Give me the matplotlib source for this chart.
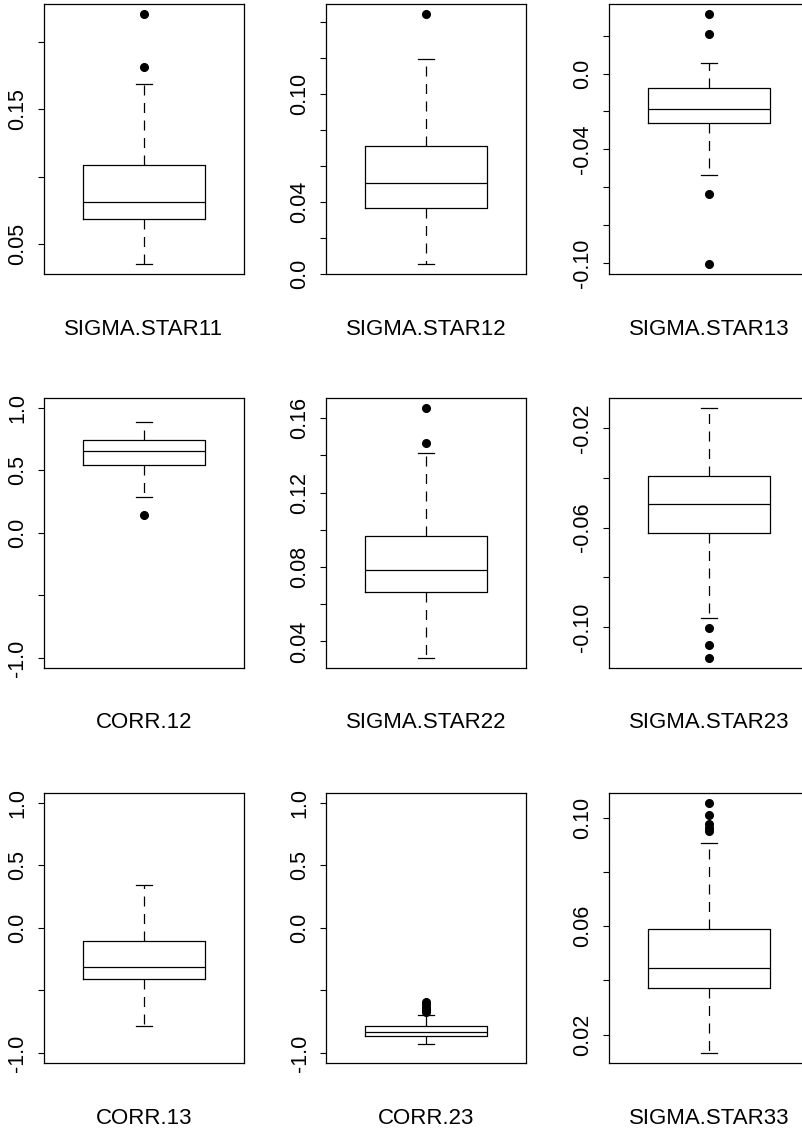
import matplotlib
matplotlib.use("Agg")
import matplotlib.pyplot as plt

plt.rcParams['font.family'] = ['Liberation Sans', 'DejaVu Sans']

# boxplot summaries
names = ['SIGMA.STAR11', 'SIGMA.STAR12', 'SIGMA.STAR13',
         'CORR.12', 'SIGMA.STAR22', 'SIGMA.STAR23',
         'CORR.13', 'CORR.23', 'SIGMA.STAR33']
q1 = [0.0683, 0.0368, -0.0260, 0.540, 0.0663, -0.0624, -0.411, -0.864, 0.0373]
med = [0.0814, 0.0506, -0.0186, 0.657, 0.0782, -0.0504, -0.309, -0.829, 0.0447]
q3 = [0.1088, 0.0711, -0.0076, 0.745, 0.0966, -0.0395, -0.104, -0.787, 0.0588]
whislo = [0.0352, 0.0056, -0.0535, 0.284, 0.0311, -0.0965, -0.781, -0.925, 0.0132]
whishi = [0.1687, 0.1198, 0.0056, 0.891, 0.1414, -0.0120, 0.344, -0.696, 0.0905]
fliers = [[0.1815, 0.2208],
          [0.1446],
          [-0.1005, -0.0634, 0.0211, 0.0314],
          [0.144],
          [0.1466, 0.1654],
          [-0.1124, -0.1071, -0.1004],
          [],
          [-0.675, -0.66, -0.645, -0.63, -0.61, -0.59],
          [0.0950, 0.0963, 0.0975, 0.1009, 0.1054]]

# y ticks and which of them carry a label
ticks = [[0.05, 0.10, 0.15, 0.20],
         [0.0, 0.02, 0.04, 0.06, 0.08, 0.10, 0.12, 0.14],
         [-0.10, -0.08, -0.06, -0.04, -0.02, 0.0, 0.02],
         [-1.0, -0.5, 0.0, 0.5, 1.0],
         [0.04, 0.06, 0.08, 0.10, 0.12, 0.14, 0.16],
         [-0.10, -0.08, -0.06, -0.04, -0.02],
         [-1.0, -0.5, 0.0, 0.5, 1.0],
         [-1.0, -0.5, 0.0, 0.5, 1.0],
         [0.02, 0.04, 0.06, 0.08, 0.10]]
tick_labels = [['0.05', '', '0.15', ''],
               ['0.0', '', '0.04', '', '', '0.10', '', ''],
               ['-0.10', '', '', '-0.04', '', '0.0', ''],
               ['-1.0', '', '0.0', '0.5', '1.0'],
               ['0.04', '', '0.08', '', '0.12', '', '0.16'],
               ['-0.10', '', '-0.06', '', '-0.02'],
               ['-1.0', '', '0.0', '0.5', '1.0'],
               ['-1.0', '', '0.0', '0.5', '1.0'],
               ['0.02', '', '0.06', '', '0.10']]
is_corr = [n.startswith('CORR') for n in names]

W, H = 803, 1130
fig = plt.figure(figsize=(W / 100, H / 100), dpi=100)

lefts = [44, 326.5, 609]
tops = [4, 398, 793]
aw, ah = 200, 270

for i, name in enumerate(names):
    r, c = divmod(i, 3)
    ax = fig.add_axes([lefts[c] / W, 1 - (tops[r] + ah) / H, aw / W, ah / H])
    stats = [dict(med=med[i], q1=q1[i], q3=q3[i], whislo=whislo[i],
                  whishi=whishi[i], fliers=fliers[i])]
    ax.bxp(stats, positions=[1], widths=0.61, capwidths=0.08,
           boxprops=dict(color='black', linewidth=0.9),
           medianprops=dict(color='black', linewidth=0.9),
           whiskerprops=dict(color='black', linewidth=0.9, linestyle=(0, (8, 6))),
           capprops=dict(color='black', linewidth=0.9),
           flierprops=dict(marker='o', markerfacecolor='black',
                           markeredgecolor='black', markersize=5.5))
    ax.set_xlim(0.5, 1.5)
    if is_corr[i]:
        ax.set_ylim(-1.08, 1.08)
    else:
        lo = min([whislo[i]] + fliers[i])
        hi = max([whishi[i]] + fliers[i])
        pad = 0.04 * (hi - lo)
        ax.set_ylim(lo - pad, hi + pad)
    ax.set_xticks([])
    ax.set_yticks(ticks[i], tick_labels[i])
    ax.tick_params(axis='y', length=4, width=0.8, pad=7.5,
                   labelsize=15.5, labelrotation=90)
    for lab in ax.get_yticklabels():
        lab.set_verticalalignment('center')
    for sp in ax.spines.values():
        sp.set_linewidth(0.9)
    ax.text(0.5, -55 / ah, name, transform=ax.transAxes,
            ha='center', va='center', fontsize=16)

fig.savefig('out.png', dpi=100)
